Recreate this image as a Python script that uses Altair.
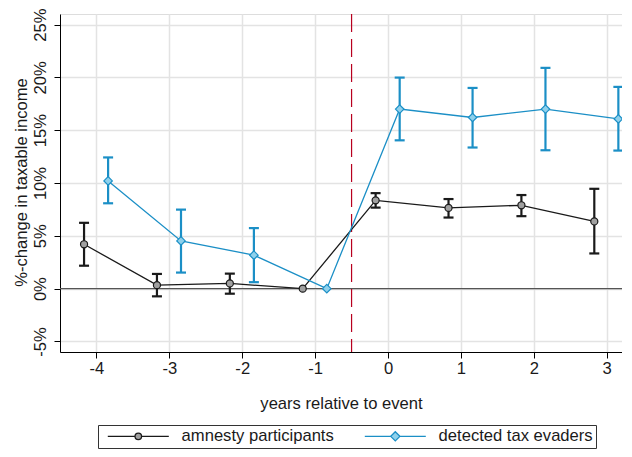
import altair as alt
import pandas as pd

years = [-4, -3, -2, -1, 0, 1, 2, 3]
series_names = ["amnesty participants", "detected tax evaders"]

amnesty_est = [4.20, 0.33, 0.49, 0.00, 8.36, 7.64, 7.89, 6.36]
amnesty_lo = [2.17, -0.73, -0.48, None, 7.67, 6.73, 6.86, 3.33]
amnesty_hi = [6.23, 1.39, 1.42, None, 9.04, 8.48, 8.86, 9.45]

evader_est = [10.20, 4.52, 3.17, 0.00, 17.00, 16.20, 17.00, 16.07]
evader_lo = [8.08, 1.52, 0.61, None, 14.04, 13.36, 13.10, 13.07]
evader_hi = [12.42, 7.48, 5.73, None, 19.98, 19.00, 20.90, 19.10]

year_shift = [-0.17, 0.16]
event_line = [-0.5]
zero_line = [0]
y_ticks = [-5, 0, 5, 10, 15, 20, 25]

rows = []
for name, shift, est, lo, hi in [
    (series_names[0], year_shift[0], amnesty_est, amnesty_lo, amnesty_hi),
    (series_names[1], year_shift[1], evader_est, evader_lo, evader_hi),
]:
    for yr, e, l, h in zip(years, est, lo, hi):
        rows.append({"series": name, "year": yr, "xpos": yr + shift,
                     "est": e, "lo": l, "hi": h})
df = pd.DataFrame(rows)
ci = df.dropna(subset=["lo", "hi"])

FONT = "Liberation Sans"
TXT = "#1a1a1a"
FS = 16.6

stroke_colors = ["#1a1a1a", "#1b8fc6"]
fill_colors = ["#a0a0a0", "#8fd1ec"]
# legend glyphs: line with marker in the middle (units of 4.5 px for symbolSize 81)
legend_paths = [
    "M-6.78,0L-0.73,0M0.73,0L6.78,0M0.73,0A0.73,0.73,0,1,1,-0.73,0A0.73,0.73,0,1,1,0.73,0Z",
    "M-6.78,0L-1.02,0M1.02,0L6.78,0M0,-1.02L1.02,0L0,1.02L-1.02,0Z",
]

xscale = alt.Scale(domain=[-4.5, 3.21], nice=False, zero=False)
yscale = alt.Scale(domain=[-6, 26], nice=False, zero=False)

x_axis = alt.Axis(values=years, labelExpr="datum.value + ''", title="years relative to event",
                  grid=True, gridColor="#e3e3e3", gridWidth=1.5,
                  tickSize=6, tickColor="#000", domainColor="#000", tickWidth=1,
                  labelFontSize=FS, labelFont=FONT, labelColor=TXT, labelPadding=2,
                  titleFontSize=FS, titleFont=FONT, titleColor=TXT, titleFontWeight="normal",
                  titlePadding=19)
y_axis = alt.Axis(values=y_ticks, labelExpr="datum.value + '%'",
                  title="%-change in taxable income",
                  grid=True, gridColor="#e3e3e3", gridWidth=1.5,
                  tickSize=6, tickColor="#000", domainColor="#000", tickWidth=1,
                  labelAngle=270, labelAlign="center", labelBaseline="alphabetic",
                  labelFontSize=FS, labelFont=FONT, labelColor=TXT, labelPadding=9,
                  titleFontSize=FS, titleFont=FONT, titleColor=TXT, titleFontWeight="normal",
                  titleAngle=270, titleBaseline="alphabetic", titleX=-34, titleY=168)

X = alt.X("xpos:Q", scale=xscale, axis=x_axis)
stroke_enc = alt.Stroke("series:N", scale=alt.Scale(domain=series_names, range=stroke_colors), legend=None)
fill_enc = alt.Fill("series:N", scale=alt.Scale(domain=series_names, range=fill_colors), legend=None)

leg = alt.Legend(title=None, orient="none", legendX=38, legendY=411, direction="horizontal",
                 columns=2, symbolSize=81, symbolStrokeWidth=1.3, symbolOpacity=1,
                 labelFontSize=FS, labelFont=FONT, labelColor=TXT, labelOffset=35,
                 strokeColor="#333", padding=3, symbolOffset=29, columnPadding=24)

legend_layer = alt.Chart(df).transform_filter("false").mark_point(filled=True, opacity=1).encode(
    x=X,
    y=alt.Y("est:Q", scale=yscale, axis=y_axis),
    fill=alt.Fill("series:N", scale=alt.Scale(domain=series_names, range=fill_colors), legend=leg),
    stroke=alt.Stroke("series:N", scale=alt.Scale(domain=series_names, range=stroke_colors), legend=leg),
    shape=alt.Shape("series:N", scale=alt.Scale(domain=series_names, range=legend_paths), legend=leg),
)

zero = alt.Chart(pd.DataFrame({"v": zero_line})).mark_rule(color="#555", strokeWidth=1.2).encode(
    y=alt.Y("v:Q", scale=yscale))
vline = alt.Chart(pd.DataFrame({"v": event_line})).mark_rule(
    color="#b8001f", strokeWidth=1.2, strokeDash=[18, 7]).encode(x=alt.X("v:Q", scale=xscale))

bars = alt.Chart(ci).mark_rule(strokeWidth=2.2).encode(
    x=X, y=alt.Y("lo:Q", scale=yscale), y2="hi:Q", stroke=stroke_enc)
cap_lo = alt.Chart(ci).mark_point(shape="M-1,0L1,0", size=100, strokeWidth=2.2, filled=False, opacity=1).encode(
    x=X, y=alt.Y("lo:Q", scale=yscale), stroke=stroke_enc)
cap_hi = alt.Chart(ci).mark_point(shape="M-1,0L1,0", size=100, strokeWidth=2.2, filled=False, opacity=1).encode(
    x=X, y=alt.Y("hi:Q", scale=yscale), stroke=stroke_enc)
lines = alt.Chart(df).mark_line(strokeWidth=1.3).encode(
    x=X, y=alt.Y("est:Q", scale=yscale), stroke=stroke_enc, order="year:Q")
pts_a = alt.Chart(df).transform_filter(alt.datum.series == series_names[0]).mark_point(
    shape="circle", size=50, filled=True, strokeWidth=1.2, opacity=1).encode(
    x=X, y=alt.Y("est:Q", scale=yscale), fill=fill_enc, stroke=stroke_enc)
pts_b = alt.Chart(df).transform_filter(alt.datum.series == series_names[1]).mark_point(
    shape="diamond", size=72, filled=True, strokeWidth=1.2, opacity=1).encode(
    x=X, y=alt.Y("est:Q", scale=yscale), fill=fill_enc, stroke=stroke_enc)

chart = alt.layer(legend_layer, zero, vline, bars, cap_lo, cap_hi, lines, pts_a, pts_b).properties(
    width=562, height=338,
    autosize=alt.AutoSizeParams(type="none"),
    padding={"left": 52, "top": 6, "right": 0, "bottom": 97},
).configure_view(stroke="#000", strokeWidth=1.2).configure(background="white")

chart.save("out.html", embed_options={"renderer": "svg", "actions": False})
